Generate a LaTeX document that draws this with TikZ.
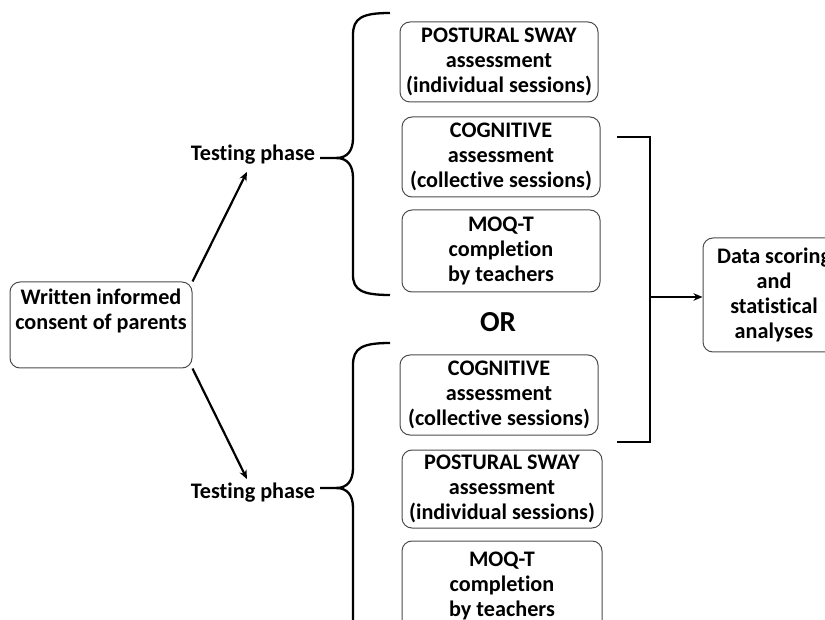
\documentclass[tikz,border=0pt]{standalone}
\usepackage{fontspec}
\setmainfont{Carlito}[Ligatures=NoCommon]
\usetikzlibrary{arrows.meta,calc}
\tikzset{
 box/.style={draw=black!70, line width=1pt, rounded corners=10pt, align=center,
   font=\bfseries\fontsize{22.2}{25}\selectfont, inner sep=0pt},
 lbl/.style={font=\bfseries\fontsize{22.2}{25}\selectfont, inner sep=0pt},
 arr/.style={line width=2.2pt, -{Stealth[length=9pt,width=7.5pt]}},
 brace/.style={line width=2.3pt},
}
\begin{document}
\begin{tikzpicture}[x=1pt,y=-1pt]
\useasboundingbox (0,0) rectangle (825,620);
\clip (0,0) rectangle (825,620);
\node[box, minimum width=182, minimum height=86] (consent) at (101,325) {Written informed\\consent of parents\\ \strut};
\node[box, minimum width=198, minimum height=80] (ps1) at (499,62) {POSTURAL SWAY\\assessment\\(individual sessions)};
\node[box, minimum width=198, minimum height=80] (cog1) at (501,157) {COGNITIVE\\assessment\\(collective sessions)};
\node[box, minimum width=198, minimum height=82] (moq1) at (501,251) {MOQ-T\\completion\\by teachers};
\node[lbl, font=\bfseries\fontsize{29}{32}\selectfont] (or) at (498,322) {OR};
\node[box, minimum width=198, minimum height=80] (cog2) at (499,395) {COGNITIVE\\assessment\\(collective sessions)};
\node[box, minimum width=200, minimum height=78] (ps2) at (502,489) {POSTURAL SWAY\\assessment\\(individual sessions)};
\node[box, minimum width=200, minimum height=90] (moq2) at (502,586) {MOQ-T\\completion\\by teachers};
\node[box, minimum width=142, minimum height=114] (data) at (774,295) {Data scoring\\and\\statistical\\analyses};
\node[lbl] (tp1) at (253,155) {Testing phase};
\node[lbl] (tp2) at (253,493) {Testing phase};
\draw[arr] (consent.north east) -- ($(tp1.south)+(-6,7)$);
\draw[arr] (consent.south east) -- ($(tp2.north)+(-6,-4)$);
% upper brace
\draw[brace] (320,158) -- (336,158) .. controls (348,158) and (353,150) .. (353,138) -- (353,35) .. controls (353,18) and (362,13) .. (390,13);
\draw[brace] (336,158) .. controls (348,158) and (353,166) .. (353,178) -- (353,275) .. controls (353,290) and (362,295) .. (390,295);
% lower brace
\draw[brace] (320,488) -- (336,488) .. controls (348,488) and (353,480) .. (353,468) -- (353,365) .. controls (353,348) and (362,343) .. (390,343);
\draw[brace] (336,488) .. controls (348,488) and (353,496) .. (353,508) -- (353,630);
% right bracket
\draw[brace] (617,137) -- (650,137) -- (650,442) -- (617,442);
\coordinate (bm) at (650,297);
\draw[arr] (bm) -- (bm -| data.west);
\end{tikzpicture}
\end{document}
